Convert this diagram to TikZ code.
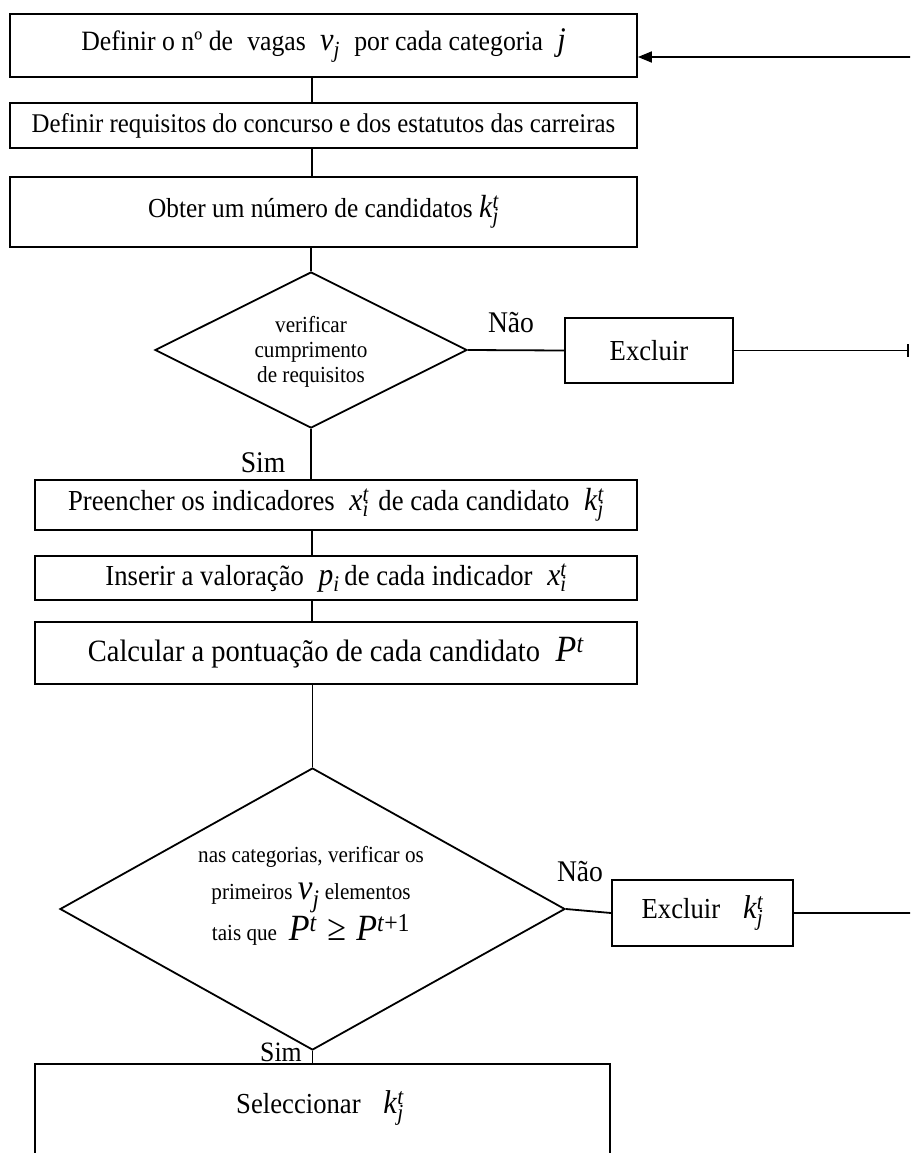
\documentclass[tikz,border=0pt]{standalone}
\usepackage{fontspec}
\setmainfont[FakeStretch=0.92]{Liberation Serif}
\usetikzlibrary{shapes.geometric,arrows.meta}
\newcommand\fs[1]{\fontsize{#1}{#1}\selectfont}
\newcommand\mysub[2]{\textit{#1}\textsubscript{\textit{#2}}}
\newcommand\mysubsup[3]{\textit{#1}\rlap{\textsuperscript{\textit{#3}}}\textsubscript{\textit{#2}}}
\begin{document}
\begin{tikzpicture}[x=1pt,y=-1pt,
  box/.style={draw,line width=1.8pt,inner sep=0pt,font=\fs{29}},
  dia/.style={draw,diamond,line width=1.8pt,inner sep=0pt},
  dtext/.style={align=center,font=\fontsize{23}{25}\selectfont},
  lbl/.style={font=\fs{30}},
  conn/.style={line width=1.8pt}]
\clip (0,0) rectangle (910,1153);
\fill[white] (0,0) rectangle (910,1153);
\coordinate (axis) at (312,0);
% boxes
\node[box,minimum width=627pt,minimum height=63pt,font=\fs{28}] (b1) at (323.5,45.5)
  {Definir o nº de\; vagas\; {\fs{33}\mysub{v}{j}}\; por cada categoria\; {\fs{33}\textit{j}}};
\node[box,minimum width=627pt,minimum height=45pt,font=\fs{27}] (b2) at (323.5,125.5)
  {Definir requisitos do concurso e dos estatutos das carreiras};
\node[box,minimum width=627pt,minimum height=70pt,font=\fs{27.5}] (b3) at (323.5,212)
  {Obter um número de candidatos {\fs{32}\mysubsup{k}{j}{t}}};
\node[dia,minimum width=312pt,minimum height=156pt] (d1) at (311,350) {};
\node[dtext] (d1t) at (311,352) {verificar\\cumprimento\\de requisitos};
\node[box,minimum width=168pt,minimum height=65pt] (ex1) at (649,350.5) {Excluir};
\node[box,minimum width=602pt,minimum height=50pt] (b4) at (336,505)
  {Preencher os indicadores\; {\fs{32}\mysubsup{x}{i}{t}}\,\,de cada candidato\; {\fs{32}\mysubsup{k}{j}{t}}};
\node[box,minimum width=602pt,minimum height=44pt] (b5) at (336,578)
  {Inserir a valoração\; {\fs{32}\mysub{p}{i}}\,de cada indicador\; {\fs{32}\mysubsup{x}{i}{t}}};
\node[box,minimum width=602pt,minimum height=62pt,font=\fs{31}] (b6) at (336,653)
  {Calcular a pontuação de cada candidato\; {\fs{37}\textit{P}\textsuperscript{\textit{t}}}};
\node[dia,minimum width=505pt,minimum height=282pt] (d2) at (312.5,909) {};
\node[dtext,font=\fontsize{23}{37}\selectfont] (d2t) at (311,896)
  {nas categorias, verificar os\\
   primeiros {\fs{36}\mysub{v}{j}} elementos\\
   tais que\; {\fs{37}\textit{P}\textsuperscript{\textit{t}}\;≥\;\textit{P}\textsuperscript{\textit{t}+1}}};
\node[box,minimum width=181pt,minimum height=66pt] (ex2) at (702.5,913)
  {Excluir\;\; {\fs{33}\mysubsup{k}{j}{t}}};
\node[box,minimum width=575pt,minimum height=94pt,anchor=north] (b7) at (322.5,1063) {};
\node[box,draw=none] (b7t) at (320,1108) {Seleccionar\;\; {\fs{33}\mysubsup{k}{j}{t}}};
% labels
\node[lbl] (nao1) at (511,323) {Não};
\node[lbl] (sim1) at (263,463) {Sim};
\node[lbl] (nao2) at (580,872) {Não};
\node[lbl,font=\fs{28}] (sim2) at (281,1052) {Sim};
% connectors
\draw[conn] (b1.south -| axis) -- (b2.north -| axis);
\draw[conn] (b2.south -| axis) -- (b3.north -| axis);
\draw[conn] (b3.south -| d1.north) -- (d1.north);
\draw[conn] (d1.east) -- (ex1.west);
\coordinate (r2) at (908,350.5);
\draw[conn] (ex1.east) -- (r2);
\coordinate (t2a) at (908,344);
\coordinate (t2b) at (908,357);
\draw[conn] (t2a) -- (t2b);
\draw[conn] (d1.south) -- (b4.north -| d1.south);
\draw[conn] (b4.south -| axis) -- (b5.north -| axis);
\draw[conn] (b5.south -| axis) -- (b6.north -| axis);
\draw[conn] (b6.south -| d2.north) -- (d2.north);
\draw[conn] (d2.east) -- (ex2.west);
\coordinate (r3) at (912,913);
\draw[conn] (ex2.east) -- (r3);
\draw[conn] (d2.south) -- (b7.north -| d2.south);
\coordinate (r1) at (912,57);
\draw[conn,-{Triangle[length=14pt,width=11pt]}] (r1) -- (b1.east |- r1);
\end{tikzpicture}
\end{document}
